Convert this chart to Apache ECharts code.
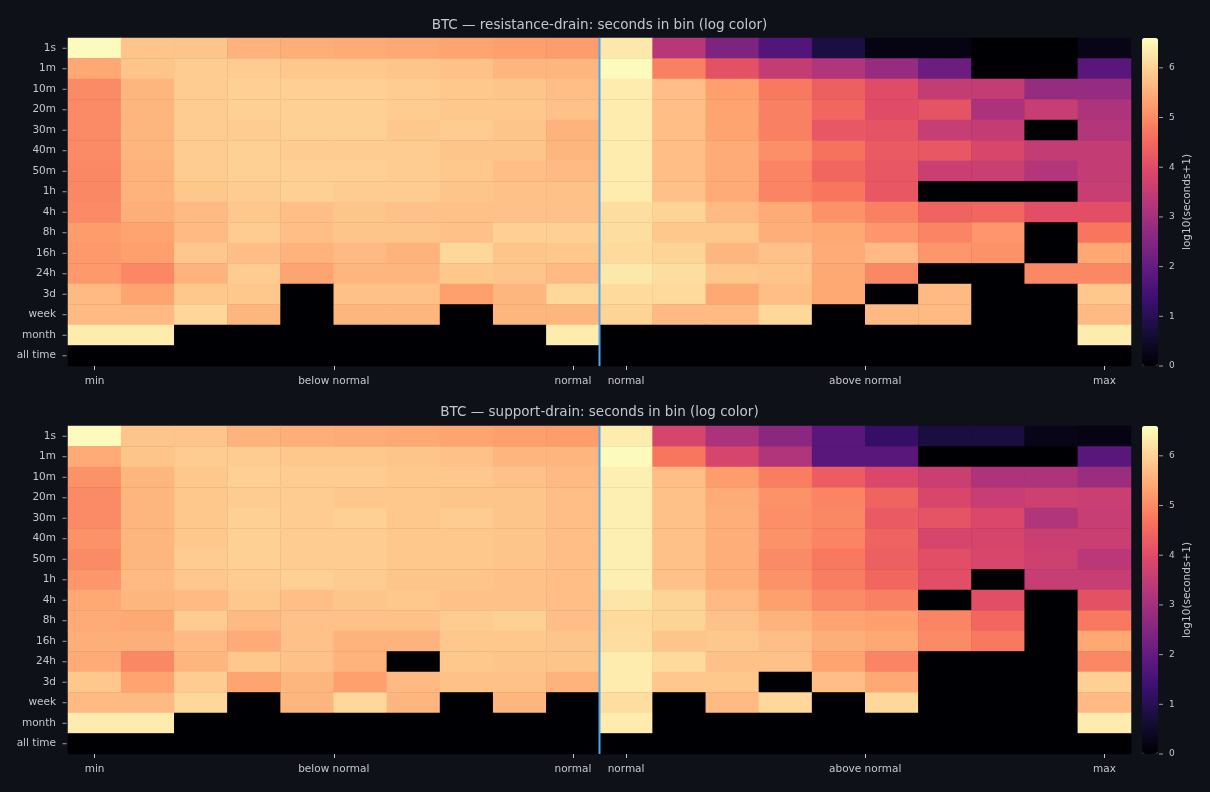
<!DOCTYPE html>
<html>
<head>
<meta charset="utf-8">
<script src="https://cdn.jsdelivr.net/npm/echarts@6/dist/echarts.min.js"></script>
<style>
html,body{margin:0;padding:0;background:#0e1117;}
#chart{width:1210px;height:792px;}
</style>
</head>
<body>
<div id="chart"></div>
<script>
const rowLabels = ['1s','1m','10m','20m','30m','40m','50m','1h','4h','8h','16h','24h','3d','week','month','all time'];
const colCount = 20;
const xTickPositions = [0, 4.5, 9, 10, 14.5, 19];
const xTickLabels = ['min','below normal','normal','normal','above normal','max'];
const colorbarTicks = [0,1,2,3,4,5,6];
const colorMin = 0;
const colorMax = 6.6;
const dividerAt = 9.5;
const titles = ['BTC \u2014 resistance-drain: seconds in bin (log color)', 'BTC \u2014 support-drain: seconds in bin (log color)'];

// log10(seconds+1), rows = rowLabels, 20 columns
const resistanceDrain = [
  [6.55,5.8,5.8,5.55,5.5,5.45,5.4,5.35,5.3,5.25, 6.3,3.3,2.4,1.7,0.8,0.2,0.2,0,0,0.25],
  [5.4,5.8,5.9,5.9,5.85,5.85,5.8,5.75,5.6,5.6, 6.55,4.85,4.1,3.5,3.2,2.8,2.1,0,0,1.8],
  [5.0,5.6,5.9,5.95,5.95,5.95,5.9,5.85,5.8,5.7, 6.35,5.7,5.3,4.75,4.35,4.0,3.5,3.5,2.8,2.8],
  [5.0,5.6,5.9,5.95,5.95,5.95,5.9,5.85,5.85,5.75, 6.35,5.7,5.35,4.85,4.45,4.0,4.15,3.1,3.55,3.15],
  [5.0,5.6,5.9,5.9,5.95,5.95,5.85,5.9,5.8,5.55, 6.35,5.7,5.35,4.85,4.2,4.15,3.55,3.5,0,3.25],
  [5.0,5.6,5.9,5.95,5.9,5.9,5.9,5.8,5.8,5.6, 6.35,5.7,5.45,5.05,4.65,4.25,4.2,3.85,3.5,3.5],
  [4.95,5.55,5.9,5.95,5.95,5.95,5.9,5.85,5.7,5.65, 6.35,5.7,5.45,4.9,4.45,4.2,3.6,3.6,3.25,3.5],
  [4.95,5.55,5.85,5.9,5.95,5.9,5.9,5.8,5.75,5.75, 6.35,5.75,5.45,4.9,4.7,4.2,0,0,0,3.55],
  [5.0,5.5,5.65,5.85,5.7,5.8,5.75,5.75,5.75,5.75, 6.15,6.0,5.65,5.45,5.1,4.85,4.4,4.45,4.05,4.05],
  [5.25,5.35,5.65,5.9,5.7,5.8,5.8,5.75,5.95,5.95, 6.15,5.85,5.85,5.5,5.4,5.15,4.9,5.15,0,4.7],
  [5.2,5.3,5.85,5.7,5.55,5.65,5.55,6.05,5.8,5.85, 6.1,6.0,5.6,5.75,5.45,5.65,5.15,5.1,0,5.4],
  [5.2,4.95,5.55,5.9,5.35,5.6,5.6,5.85,5.8,5.65, 6.3,6.15,5.85,5.8,5.4,4.95,0,0,4.95,4.95],
  [5.65,5.35,5.85,5.85,0,5.75,5.75,5.3,5.6,6.05, 6.1,6.1,5.4,5.7,5.4,0,5.65,0,0,5.85],
  [5.65,5.65,6.05,5.6,0,5.6,5.6,0,5.6,5.6, 6.0,5.65,5.65,6.05,0,5.65,5.65,0,0,5.65],
  [6.35,6.35,0,0,0,0,0,0,0,6.35, 0,0,0,0,0,0,0,0,0,6.35],
  [0,0,0,0,0,0,0,0,0,0, 0,0,0,0,0,0,0,0,0,0]
];

const supportDrain = [
  [6.55,5.8,5.8,5.55,5.5,5.45,5.4,5.35,5.3,5.25, 6.35,3.8,3.1,2.6,1.8,1.2,0.75,0.75,0.25,0.2],
  [5.45,5.8,5.9,5.9,5.85,5.85,5.8,5.75,5.6,5.6, 6.55,4.7,3.8,3.2,1.8,1.8,0,0,0,1.8],
  [5.1,5.6,5.85,5.95,5.9,5.9,5.85,5.85,5.75,5.65, 6.4,5.7,5.25,4.8,4.3,3.9,3.6,3.15,3.15,2.85],
  [5.0,5.6,5.85,5.9,5.9,5.85,5.85,5.8,5.8,5.7, 6.4,5.75,5.45,5.1,4.9,4.4,3.85,3.55,3.65,3.6],
  [5.0,5.6,5.85,5.95,5.9,5.95,5.85,5.9,5.8,5.7, 6.4,5.75,5.5,5.05,4.95,4.25,4.15,3.9,3.2,3.55],
  [5.1,5.6,5.85,5.95,5.9,5.9,5.85,5.85,5.8,5.7, 6.4,5.75,5.5,5.1,4.9,4.4,3.8,3.8,3.6,3.6],
  [5.0,5.6,5.9,5.95,5.9,5.9,5.85,5.85,5.8,5.7, 6.4,5.75,5.5,5.0,4.75,4.35,4.05,3.85,3.65,3.35],
  [5.15,5.65,5.85,5.9,5.95,5.9,5.8,5.8,5.75,5.7, 6.4,5.75,5.5,5.1,4.8,4.45,4.05,0,3.55,3.55],
  [5.4,5.6,5.65,5.85,5.7,5.8,5.85,5.75,5.75,5.7, 6.25,6.0,5.65,5.3,5.0,4.85,0,4.05,0,4.1],
  [5.45,5.4,5.9,5.65,5.75,5.75,5.75,5.9,5.95,5.7, 6.1,6.0,5.75,5.55,5.35,5.3,4.9,4.45,0,4.75],
  [5.5,5.5,5.65,5.45,5.75,5.55,5.55,5.85,5.85,5.8, 6.15,5.8,5.85,5.7,5.5,5.4,5.0,4.75,0,5.4],
  [5.45,4.95,5.6,5.85,5.75,5.55,0,5.85,5.8,5.8, 6.35,6.1,5.75,5.75,5.35,4.9,0,0,0,4.95],
  [5.85,5.35,5.9,5.35,5.6,5.3,5.65,5.75,5.75,5.55, 6.35,5.85,5.85,0,5.7,5.4,0,0,0,5.95],
  [5.65,5.65,6.05,0,5.6,6.05,5.6,0,5.6,0, 6.15,0,5.65,6.05,0,6.05,0,0,0,5.65],
  [6.35,6.35,0,0,0,0,0,0,0,0, 6.35,0,0,0,0,0,0,0,0,6.35],
  [0,0,0,0,0,0,0,0,0,0, 0,0,0,0,0,0,0,0,0,0]
];

const magma = ['#000004','#140e36','#3b0f70','#641a80','#8c2981','#b73779','#de4968','#f7705c','#fe9f6d','#fecf92','#fcfdbf'];

const FONT = 'DejaVu Sans';
const TXT = '#c3c7cf';
const TICK = '#c3c7cf';

function toCells(matrix) {
  const out = [];
  matrix.forEach((row, r) => row.forEach((v, c) => out.push([c, r, v])));
  return out;
}
const colCats = Array.from({length: colCount}, (_, i) => String(i));
const rowTickPositions = rowLabels.map((_, i) => i);

const panels = [
  {top: 38, data: resistanceDrain, title: titles[0], titleY: 24},
  {top: 426, data: supportDrain, title: titles[1], titleY: 411}
];
const plotLeft = 68, plotWidth = 1063, plotHeight = 328;
const cbLeft = 1142, cbWidth = 16;

const grid = [], xAxis = [], yAxis = [], series = [], visualMap = [], title = [];
const hiddenLine = () => ({show: true, onZero: false, lineStyle: {color: 'rgba(0,0,0,0)'}});

panels.forEach((p, i) => {
  grid.push({left: plotLeft, top: p.top, width: plotWidth, height: plotHeight, containLabel: false});
  title.push({
    text: p.title, left: plotLeft + plotWidth / 2, top: p.titleY - 6, textAlign: 'center', padding: 0,
    textStyle: {color: TXT, fontFamily: FONT, fontSize: 13.5, fontWeight: 'normal'}
  });
  const gi = i * 2;
  // category x (hidden)
  xAxis.push({type: 'category', gridIndex: gi, data: colCats, show: false, position: 'top', axisLine: {onZero: false}});
  // value x for labels
  xAxis.push({
    type: 'value', gridIndex: gi, min: -0.5, max: colCount - 0.5, position: 'bottom', z: 20,
    axisLine: hiddenLine(), splitLine: {show: false},
    axisTick: {show: true, inside: false, length: 4, customValues: xTickPositions, lineStyle: {color: TICK, width: 1}},
    axisLabel: {
      customValues: xTickPositions, margin: 10, color: TXT, fontFamily: FONT, fontSize: 10.5,
      formatter: v => { const k = xTickPositions.indexOf(v); return k >= 0 ? xTickLabels[k] : ''; }
    }
  });
  yAxis.push({
    type: 'category', gridIndex: gi, data: rowLabels, inverse: true, position: 'left', z: 20,
    axisLine: hiddenLine(),
    axisTick: {show: false},
    axisLabel: {color: TXT, fontFamily: FONT, fontSize: 10.5, margin: 12},
    splitLine: {show: false}
  });
  // value y (hidden): hosts divider line and row tick marks
  yAxis.push({
    type: 'value', gridIndex: gi, min: -0.5, max: rowLabels.length - 0.5, inverse: true, position: 'right',
    show: false, axisLine: {onZero: false}
  });

  // colorbar grid
  grid.push({left: cbLeft, top: p.top, width: cbWidth, height: plotHeight});
  xAxis.push({type: 'value', gridIndex: gi + 1, show: false, min: 0, max: 1, axisLine: {onZero: false}});
  yAxis.push({
    type: 'value', gridIndex: gi + 1, min: colorMin, max: colorMax, position: 'right', z: 20,
    axisLine: hiddenLine(), splitLine: {show: false},
    axisTick: {show: false},
    axisLabel: {customValues: colorbarTicks, color: TXT, fontFamily: FONT, fontSize: 9, margin: 11},
    name: 'log10(seconds+1)', nameLocation: 'middle', nameRotate: 90, nameGap: 24,
    nameTextStyle: {color: TXT, fontFamily: FONT, fontSize: 10.5}
  });
});

// series: heatmaps (0,1)
panels.forEach((p, i) => {
  series.push({
    type: 'heatmap', xAxisIndex: i * 3, yAxisIndex: i * 3,
    data: toCells(p.data), itemStyle: {borderWidth: 0}, emphasis: {disabled: true}
  });
});
// divider lines
panels.forEach((p, i) => {
  series.push({
    type: 'line', xAxisIndex: i * 3 + 1, yAxisIndex: i * 3 + 1,
    data: [[dividerAt, -0.5], [dividerAt, rowLabels.length - 0.5]], symbol: 'none', silent: true,
    lineStyle: {color: '#4fa3f0', width: 2}, z: 5
  });
});
// row tick marks (left of plot edge)
panels.forEach((p, i) => {
  series.push({
    type: 'scatter', xAxisIndex: i * 3 + 1, yAxisIndex: i * 3 + 1,
    data: rowTickPositions.map(r => [-0.5, r]), symbol: 'rect', symbolSize: [4, 1], symbolOffset: [-3.5, 0],
    itemStyle: {color: TICK}, clip: false, silent: true, z: 10
  });
});
// colorbar tick marks (right of bar)
panels.forEach((p, i) => {
  series.push({
    type: 'scatter', xAxisIndex: i * 3 + 2, yAxisIndex: i * 3 + 2,
    data: colorbarTicks.map(v => [1, v]), symbol: 'rect', symbolSize: [4, 1], symbolOffset: [3, 0],
    itemStyle: {color: TICK}, clip: false, silent: true, z: 10
  });
});
panels.forEach((p, i) => {
  visualMap.push({
    type: 'continuous', seriesIndex: i, min: colorMin, max: colorMax,
    calculable: false, hoverLink: false, show: true, padding: 0,
    left: cbLeft, top: p.top, itemWidth: cbWidth, itemHeight: plotHeight,
    inRange: {color: magma}, text: null, textStyle: {color: 'transparent'}
  });
});

const chart = echarts.init(document.getElementById('chart'), null, {renderer: 'canvas'});
chart.setOption({
  backgroundColor: '#0e1117',
  animation: false,
  title, grid, xAxis, yAxis, series, visualMap
});
</script>
</body>
</html>
